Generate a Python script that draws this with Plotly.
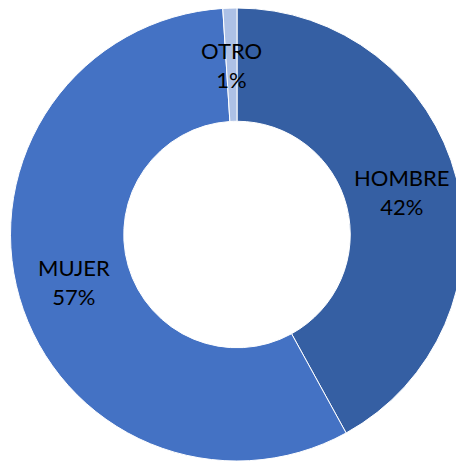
import math
import plotly.graph_objects as go

categories = ["HOMBRE", "MUJER", "OTRO"]
values = [42, 57, 1]
colors = ["#355FA3", "#4472C4", "#ADC1E6"]

# page body has an 8px default margin, so size the figure to the visible area
W, H = 456, 453
ml, mr, mt, mb = 2, 0, 0, 0
pw, ph = W - ml - mr, H - mt - mb
hole = 0.5

fig = go.Figure(go.Pie(
    labels=categories,
    values=values,
    sort=False,
    direction="clockwise",
    rotation=0,
    hole=hole,
    marker=dict(colors=colors, line=dict(color="white", width=1)),
    textinfo="none",
    hoverinfo="label+percent",
    showlegend=False,
))

# label positions: middle of ring along each slice bisector
R = min(pw, ph) / 2
rmid = R * (1 + hole) / 2
total = sum(values)
cum = 0
annotations = []
for cat, v in zip(categories, values):
    mid = (cum + v / 2) / total * 2 * math.pi
    cum += v
    dx = rmid * math.sin(mid)
    dy = rmid * math.cos(mid)
    pct = round(v / total * 100)
    annotations.append(dict(
        x=0.5 + dx / pw, y=0.5 + dy / ph, xref="paper", yref="paper",
        text=f"{cat}<br>{pct}%", showarrow=False,
        xanchor="center", yanchor="middle",
        font=dict(family="Lato, Carlito, sans-serif", size=22, color="#000000"),
    ))

fig.update_layout(
    width=W, height=H,
    margin=dict(l=ml, r=mr, t=mt, b=mb),
    paper_bgcolor="white", plot_bgcolor="white",
    annotations=annotations,
)

fig.write_html("out.html")
